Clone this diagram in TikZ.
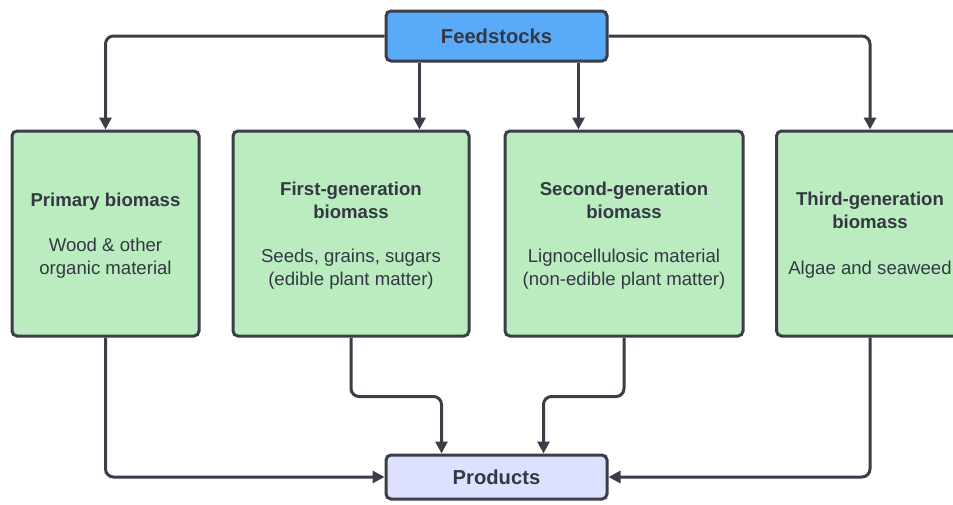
\documentclass[tikz,border=0pt]{standalone}
\usepackage{fontspec}
\setmainfont{Liberation Sans}
\usetikzlibrary{arrows.meta}
\definecolor{edge}{RGB}{58,62,72}
\definecolor{txt}{RGB}{52,56,66}
\definecolor{bluefill}{RGB}{90,170,250}
\definecolor{greenfill}{RGB}{186,236,192}
\definecolor{lavfill}{RGB}{222,224,255}
\tikzset{
  box/.style={draw=edge, line width=3pt, rounded corners=5pt, text=txt, align=center,
    font=\fontsize{18.6}{23}\selectfont, inner sep=0pt},
  topbox/.style={box, fill=bluefill, minimum width=221pt, minimum height=50pt, font=\fontsize{20.2}{22}\selectfont\bfseries},
  bottombox/.style={box, fill=lavfill, minimum width=221pt, minimum height=44pt, font=\fontsize{20.2}{22}\selectfont\bfseries},
  biobox/.style={box, fill=greenfill, minimum height=205pt, text depth=-4pt},
  arr/.style={draw=edge, line width=3pt, rounded corners=8pt, -{Triangle[length=12pt,width=12pt]}}
}
\begin{document}
\begin{tikzpicture}[x=1pt,y=-1pt]
\clip (0,0) rectangle (953,504);
\fill[white] (0,0) rectangle (953,504);
\node[topbox] (feed) at (496.5,36) {Feedstocks};
\node[biobox, minimum width=187pt] (prim) at (105.5,233.5) {\textbf{Primary biomass}\\[22pt]Wood \& other\\organic material};
\node[biobox, minimum width=236pt] (first) at (351,233.5) {\textbf{First-generation}\\\textbf{biomass}\\[21pt]Seeds, grains, sugars\\(edible plant matter)};
\node[biobox, minimum width=238pt] (second) at (624,233.5) {\textbf{Second-generation}\\\textbf{biomass}\\[21pt]Lignocellulosic material\\(non-edible plant matter)};
\node[biobox, minimum width=187pt] (third) at (870,233.5) {\textbf{Third-generation}\\\textbf{biomass}\\[23pt]Algae and seaweed};
\node[bottombox] (prod) at (496.5,477) {Products};
\draw[arr] (feed.west) -| (prim.north);
\draw[arr] (feed.east) -| (third.north);
\draw[arr] ([xshift=35pt]feed.south west) -- ([xshift=35pt]feed.south west |- first.north);
\draw[arr] ([xshift=-30pt]feed.south east) -- ([xshift=-30pt]feed.south east |- second.north);
\draw[arr] (prim.south) |- (prod.west);
\draw[arr] (third.south) |- (prod.east);
\draw[arr] (first.south) -- ++(0,59) -| ([xshift=57pt]prod.north west);
\draw[arr] (second.south) -- ++(0,59) -| ([xshift=159pt]prod.north west);
\end{tikzpicture}
\end{document}
